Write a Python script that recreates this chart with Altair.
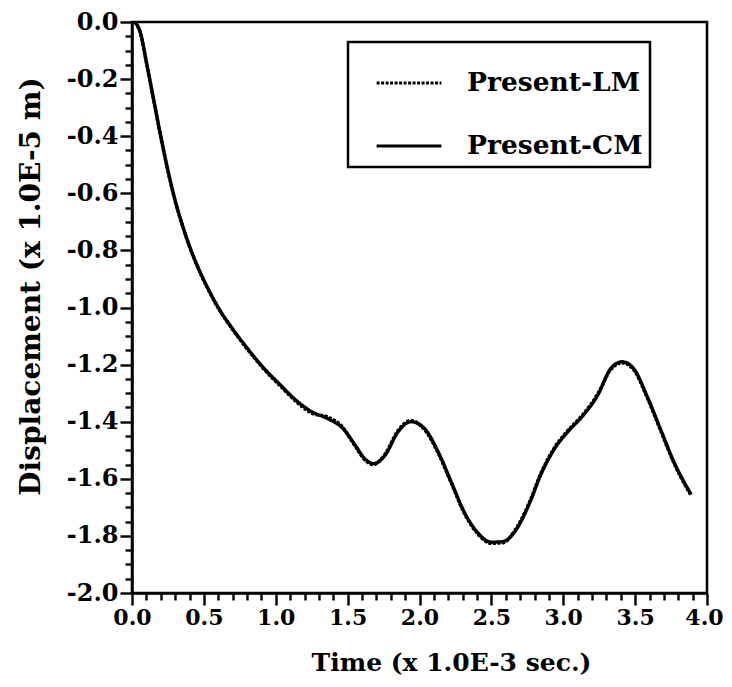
import altair as alt
import pandas as pd

# ---- data ----
time_cm = [0.02, 0.06, 0.10, 0.15, 0.20, 0.25, 0.30, 0.35, 0.40, 0.46, 0.53, 0.60,
           0.70, 0.79, 0.87, 0.95, 1.02, 1.13, 1.25, 1.365, 1.46, 1.55, 1.62, 1.68,
           1.76, 1.85, 1.94, 2.035, 2.13, 2.22, 2.31, 2.40, 2.50, 2.58, 2.67, 2.77,
           2.84, 2.94, 3.03, 3.14, 3.24, 3.33, 3.41, 3.49, 3.58, 3.675, 3.77, 3.89]
disp_cm = [0.000, -0.040, -0.140, -0.270, -0.400, -0.520, -0.625, -0.710, -0.785,
           -0.860, -0.935, -1.000, -1.075, -1.135, -1.185, -1.230, -1.265, -1.320,
           -1.365, -1.390, -1.420, -1.480, -1.530, -1.547, -1.518, -1.436, -1.400,
           -1.424, -1.506, -1.610, -1.715, -1.786, -1.822, -1.820, -1.780, -1.680,
           -1.590, -1.494, -1.436, -1.377, -1.307, -1.214, -1.190, -1.214, -1.307,
           -1.424, -1.541, -1.655]

time_lm = time_cm
disp_lm = [0.000, -0.042, -0.142, -0.272, -0.402, -0.522, -0.627, -0.712, -0.787,
           -0.862, -0.937, -1.002, -1.077, -1.138, -1.188, -1.234, -1.269, -1.324,
           -1.370, -1.384, -1.416, -1.484, -1.534, -1.550, -1.514, -1.432, -1.396,
           -1.428, -1.510, -1.614, -1.719, -1.790, -1.826, -1.824, -1.776, -1.676,
           -1.586, -1.490, -1.432, -1.373, -1.303, -1.218, -1.194, -1.218, -1.311,
           -1.428, -1.545, -1.659]

series_names = ["Present-LM", "Present-CM"]

x_ticks = [round(i * 0.1, 1) for i in range(0, 41)]
y_ticks = [round(-i * 0.05, 2) for i in range(0, 41)]

df = pd.concat([
    pd.DataFrame({"t": time_lm, "d": disp_lm, "series": series_names[0]}),
    pd.DataFrame({"t": time_cm, "d": disp_cm, "series": series_names[1]}),
])

FONT = "DejaVu Serif"

x_major = "abs(datum.value*2 - round(datum.value*2)) < 1e-6"
y_major = "abs(datum.value*5 - round(datum.value*5)) < 1e-6"
x_label_expr = (x_major + " ? ((datum.value < 0 ? '-' : '') + format(abs(datum.value), '.1f')) : ''")
y_label_expr = (y_major + " ? ((datum.value < -1e-9 ? '-' : '') + format(abs(datum.value), '.1f')) : ''")

legend = alt.Legend(title=None, orient="none", legendX=216, legendY=20)

chart = alt.Chart(df).mark_line(interpolate="monotone", strokeWidth=3.4).encode(
    x=alt.X("t:Q", scale=alt.Scale(domain=[0, 4], nice=False),
            axis=alt.Axis(title="Time (x 1.0E-3 sec.)", values=x_ticks,
                          labelExpr=x_label_expr, labelFontSize=22,
                          labelOffset={"condition": {"test": "datum.value > 3.95", "value": -3}, "value": 0},
                          tickSize={"condition": {"test": x_major, "value": 12}, "value": 7},
                          grid=False, titleFontSize=25, titlePadding=22, titleX=319)),
    y=alt.Y("d:Q", scale=alt.Scale(domain=[-2, 0], nice=False),
            axis=alt.Axis(title="Displacement (x 1.0E-5 m)", values=y_ticks,
                          labelExpr=y_label_expr, labelFontSize=24,
                          tickSize={"condition": {"test": y_major, "value": 12}, "value": 7},
                          grid=False, titleFontSize=28, titlePadding=21, titleY=264)),
    color=alt.Color("series:N", scale=alt.Scale(domain=series_names, range=["black", "black"]),
                    legend=legend),
    strokeDash=alt.StrokeDash("series:N", scale=alt.Scale(domain=series_names, range=[[3, 1.5], [1, 0]]),
                              legend=legend),
).properties(
    width=575, height=571,
    autosize=alt.AutoSizeParams(type="none"),
    padding={"left": 124, "top": 14, "right": 17, "bottom": 86},
).configure_view(
    stroke="black", strokeWidth=2.5
).configure_axis(
    domainColor="black", domainWidth=2.5, tickColor="black", tickWidth=2.4,
    labelFont=FONT, labelFontWeight="bold", labelColor="black", labelPadding=2,
    titleFont=FONT, titleColor="black", titleFontWeight="bold",
    labelFlush=False, labelOverlap=False,
).configure_legend(
    strokeColor="black", strokeWidth=2.5, padding=7, fillColor="white",
    labelFont=FONT, labelFontSize=26.5, labelFontWeight="bold", labelColor="black", labelOffset=24,
    labelLimit=400,
    symbolType="stroke", symbolSize=4200, symbolStrokeWidth=3, symbolStrokeColor="black",
    symbolOffset=20, rowPadding=15,
)

chart.save("out.html", embed_options={"renderer": "svg", "actions": False})
